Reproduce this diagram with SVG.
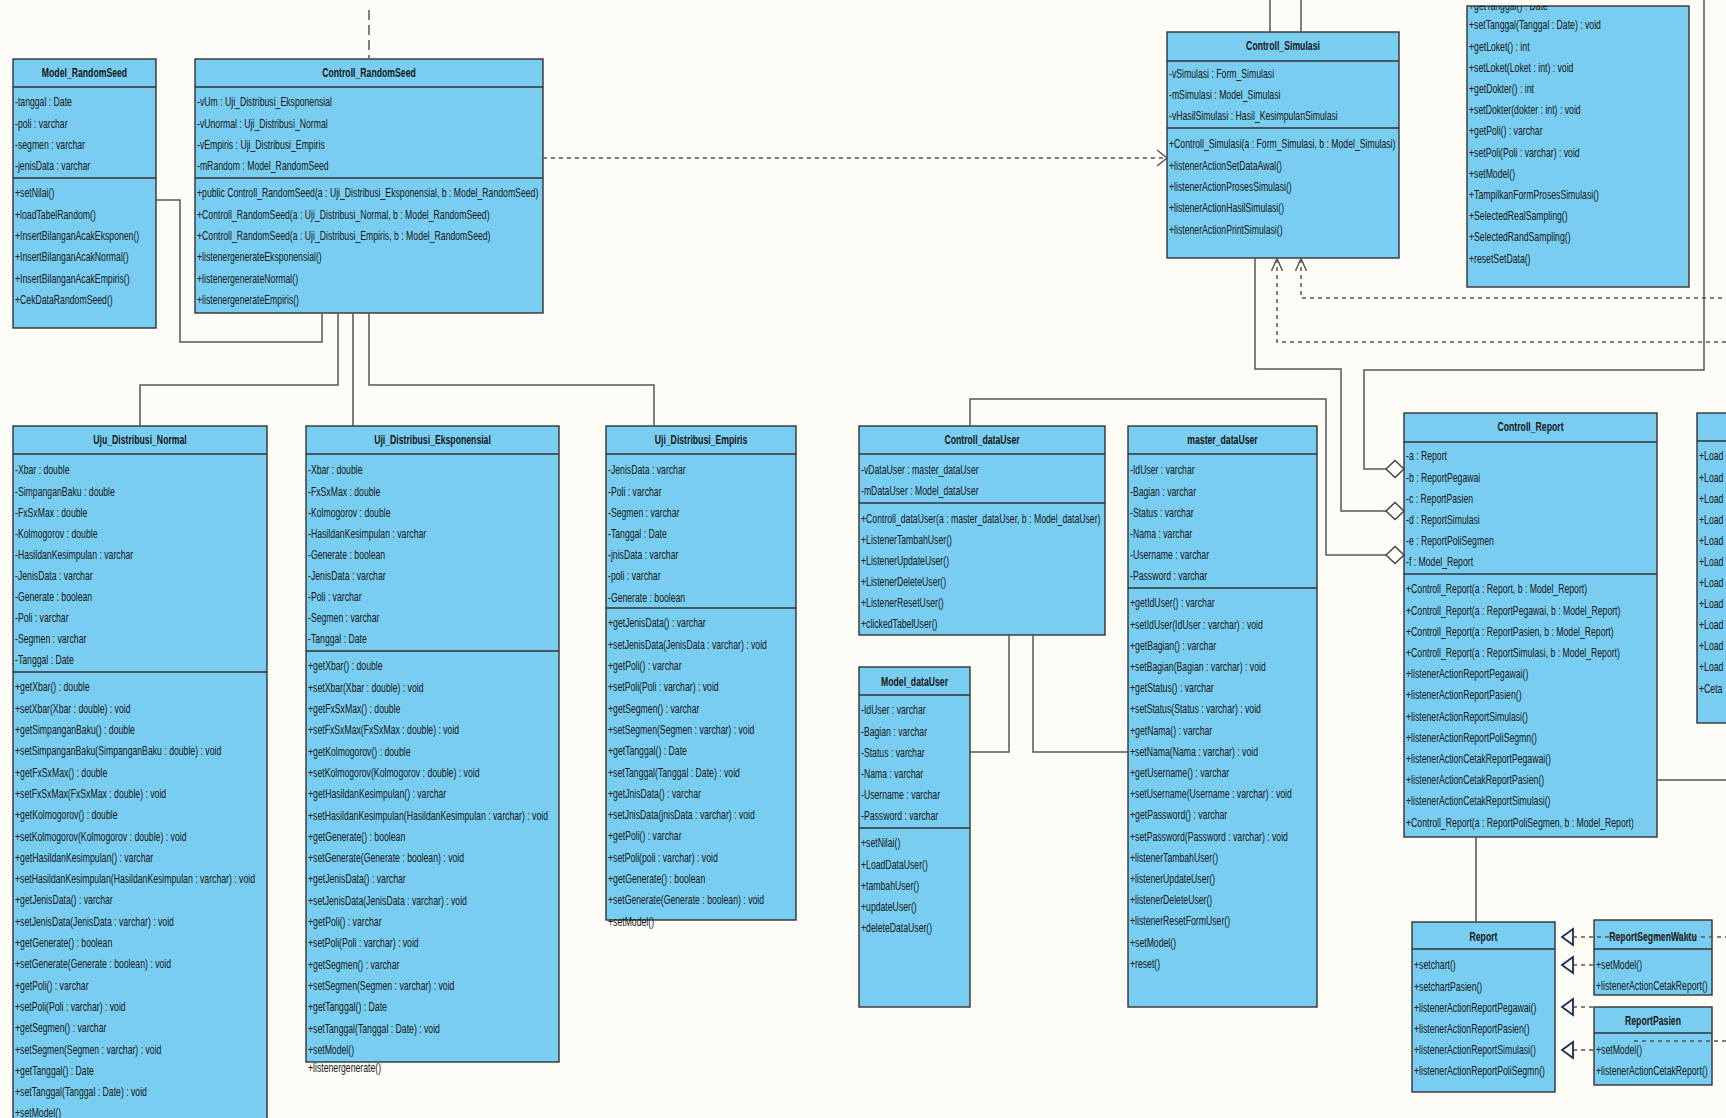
<svg xmlns="http://www.w3.org/2000/svg" width="1726" height="1118" viewBox="0 0 1726 1118">
<style>
.box{fill:#79cdf0;stroke:#333;stroke-width:1.4}
.sep{fill:none;stroke:#333;stroke-width:1.6}
.t{font-family:"Liberation Sans",Arial,sans-serif;font-size:13px;fill:#161616}
.h{font-family:"Liberation Sans",Arial,sans-serif;font-size:13px;font-weight:bold;fill:#161616;text-anchor:middle}
.ln{fill:none;stroke:#555;stroke-width:1.5}
.dash{fill:none;stroke:#555;stroke-width:1.5;stroke-dasharray:4 4}
.dashl{fill:none;stroke:#555;stroke-width:1.5;stroke-dasharray:10 5}
.dia{fill:#fdfdf8;stroke:#444;stroke-width:1.5}
.tri{fill:#f4f8fa;stroke:#1f2d4d;stroke-width:1.8}
</style>
<defs>
<clipPath id="clipTopRight"><rect x="1467" y="6" width="222" height="281"/></clipPath>
</defs>
<rect width="1726" height="1118" fill="#fdfcf7"/>

<!-- Model_RandomSeed -->
<g id="model-randomseed">
<rect class="box" x="13" y="59" width="143" height="269"/>
<path class="sep" d="M13 87H156M13 178H156"/>
<g transform="translate(84.5 0) scale(.668 1)"><text class="h" y="77.5">Model_RandomSeed</text></g>
<g transform="translate(15 0) scale(.668 1)">
<text class="t" y="106.5">-tanggal : Date</text>
<text class="t" y="127.8">-poli : varchar</text>
<text class="t" y="149.1">-segmen : varchar</text>
<text class="t" y="170.4">-jenisData : varchar</text>
<text class="t" y="197.5">+setNilai()</text>
<text class="t" y="218.8">+loadTabelRandom()</text>
<text class="t" y="240.1">+InsertBilanganAcakEksponen()</text>
<text class="t" y="261.4">+InsertBilanganAcakNormal()</text>
<text class="t" y="282.7">+InsertBilanganAcakEmpiris()</text>
<text class="t" y="304">+CekDataRandomSeed()</text>
</g>
</g>

<!-- Controll_RandomSeed -->
<g id="controll-randomseed">
<rect class="box" x="195" y="59" width="348" height="254"/>
<path class="sep" d="M195 87H543M195 178H543"/>
<g transform="translate(369 0) scale(.668 1)"><text class="h" y="77.5">Controll_RandomSeed</text></g>
<g transform="translate(197 0) scale(.668 1)">
<text class="t" y="106.5">-vUm : Uji_Distribusi_Eksponensial</text>
<text class="t" y="127.8">-vUnormal : Uji_Distribusi_Normal</text>
<text class="t" y="149.1">-vEmpiris : Uji_Distribusi_Empiris</text>
<text class="t" y="170.4">-mRandom : Model_RandomSeed</text>
<text class="t" y="197.5">+public Controll_RandomSeed(a : Uji_Distribusi_Eksponensial, b : Model_RandomSeed)</text>
<text class="t" y="218.8">+Controll_RandomSeed(a : Uji_Distribusi_Normal, b : Model_RandomSeed)</text>
<text class="t" y="240.1">+Controll_RandomSeed(a : Uji_Distribusi_Empiris, b : Model_RandomSeed)</text>
<text class="t" y="261.4">+listenergenerateEksponensial()</text>
<text class="t" y="282.7">+listenergenerateNormal()</text>
<text class="t" y="304">+listenergenerateEmpiris()</text>
</g>
</g>

<!-- Controll_Simulasi -->
<g id="controll-simulasi">
<rect class="box" x="1167" y="32" width="232" height="226"/>
<path class="sep" d="M1167 61H1399M1167 128H1399"/>
<g transform="translate(1283 0) scale(.668 1)"><text class="h" y="50.5">Controll_Simulasi</text></g>
<g transform="translate(1169 0) scale(.668 1)">
<text class="t" y="78.5">-vSimulasi : Form_Simulasi</text>
<text class="t" y="99.5">-mSimulasi : Model_Simulasi</text>
<text class="t" y="120.5">-vHasilSimulasi : Hasil_KesimpulanSimulasi</text>
<text class="t" y="148.5">+Controll_Simulasi(a : Form_Simulasi, b : Model_Simulasi)</text>
<text class="t" y="169.8">+listenerActionSetDataAwal()</text>
<text class="t" y="191.1">+listenerActionProsesSimulasi()</text>
<text class="t" y="212.4">+listenerActionHasilSimulasi()</text>
<text class="t" y="233.7">+listenerActionPrintSimulasi()</text>
</g>
</g>

<!-- simulation form class, upper part cut by the page edge -->
<g id="simulasi-form">
<rect class="box" x="1467" y="6" width="222" height="281"/>
<g clip-path="url(#clipTopRight)">
<g transform="translate(1469 0) scale(.668 1)">
<text class="t" y="9.5">+getTanggal() : Date</text>
<text class="t" y="29.5">+setTanggal(Tanggal : Date) : void</text>
<text class="t" y="50.7">+getLoket() : int</text>
<text class="t" y="71.9">+setLoket(Loket : int) : void</text>
<text class="t" y="93.1">+getDokter() : int</text>
<text class="t" y="114.3">+setDokter(dokter : int) : void</text>
<text class="t" y="135.5">+getPoli() : varchar</text>
<text class="t" y="156.7">+setPoli(Poli : varchar) : void</text>
<text class="t" y="177.9">+setModel()</text>
<text class="t" y="199.1">+TampilkanFormProsesSimulasi()</text>
<text class="t" y="220.3">+SelectedRealSampling()</text>
<text class="t" y="241.5">+SelectedRandSampling()</text>
<text class="t" y="262.7">+resetSetData()</text>
</g>
</g>
</g>

<!-- Uju_Distribusi_Normal -->
<g id="uji-distribusi-normal">
<rect class="box" x="13" y="426" width="254" height="710"/>
<path class="sep" d="M13 454H267M13 672H267"/>
<g transform="translate(140 0) scale(.668 1)"><text class="h" y="444.5">Uju_Distribusi_Normal</text></g>
<g transform="translate(15 0) scale(.668 1)">
<text class="t" y="474.5">-Xbar : double</text>
<text class="t" y="495.6">-SimpanganBaku : double</text>
<text class="t" y="516.7">-FxSxMax : double</text>
<text class="t" y="537.8">-Kolmogorov : double</text>
<text class="t" y="558.9">-HasildanKesimpulan : varchar</text>
<text class="t" y="580">-JenisData : varchar</text>
<text class="t" y="601.1">-Generate : boolean</text>
<text class="t" y="622.2">-Poli : varchar</text>
<text class="t" y="643.3">-Segmen : varchar</text>
<text class="t" y="664.4">-Tanggal : Date</text>
<text class="t" y="691.5">+getXbar() : double</text>
<text class="t" y="712.8">+setXbar(Xbar : double) : void</text>
<text class="t" y="734.1">+getSimpanganBaku() : double</text>
<text class="t" y="755.4">+setSimpanganBaku(SimpanganBaku : double) : void</text>
<text class="t" y="776.7">+getFxSxMax() : double</text>
<text class="t" y="798">+setFxSxMax(FxSxMax : double) : void</text>
<text class="t" y="819.3">+getKolmogorov() : double</text>
<text class="t" y="840.6">+setKolmogorov(Kolmogorov : double) : void</text>
<text class="t" y="861.9">+getHasildanKesimpulan() : varchar</text>
<text class="t" y="883.2">+setHasildanKesimpulan(HasildanKesimpulan : varchar) : void</text>
<text class="t" y="904.5">+getJenisData() : varchar</text>
<text class="t" y="925.8">+setJenisData(JenisData : varchar) : void</text>
<text class="t" y="947.1">+getGenerate() : boolean</text>
<text class="t" y="968.4">+setGenerate(Generate : boolean) : void</text>
<text class="t" y="989.7">+getPoli() : varchar</text>
<text class="t" y="1011">+setPoli(Poli : varchar) : void</text>
<text class="t" y="1032.3">+getSegmen() : varchar</text>
<text class="t" y="1053.6">+setSegmen(Segmen : varchar) : void</text>
<text class="t" y="1074.9">+getTanggal() : Date</text>
<text class="t" y="1096.2">+setTanggal(Tanggal : Date) : void</text>
<text class="t" y="1117.5">+setModel()</text>
</g>
</g>

<!-- Uji_Distribusi_Eksponensial -->
<g id="uji-distribusi-eksponensial">
<rect class="box" x="306" y="426" width="253" height="636"/>
<path class="sep" d="M306 454H559M306 651H559"/>
<g transform="translate(432.5 0) scale(.668 1)"><text class="h" y="444.5">Uji_Distribusi_Eksponensial</text></g>
<g transform="translate(308 0) scale(.668 1)">
<text class="t" y="474.5">-Xbar : double</text>
<text class="t" y="495.6">-FxSxMax : double</text>
<text class="t" y="516.7">-Kolmogorov : double</text>
<text class="t" y="537.8">-HasildanKesimpulan : varchar</text>
<text class="t" y="558.9">-Generate : boolean</text>
<text class="t" y="580">-JenisData : varchar</text>
<text class="t" y="601.1">-Poli : varchar</text>
<text class="t" y="622.2">-Segmen : varchar</text>
<text class="t" y="643.3">-Tanggal : Date</text>
<text class="t" y="670.5">+getXbar() : double</text>
<text class="t" y="691.8">+setXbar(Xbar : double) : void</text>
<text class="t" y="713.1">+getFxSxMax() : double</text>
<text class="t" y="734.4">+setFxSxMax(FxSxMax : double) : void</text>
<text class="t" y="755.7">+getKolmogorov() : double</text>
<text class="t" y="777">+setKolmogorov(Kolmogorov : double) : void</text>
<text class="t" y="798.3">+getHasildanKesimpulan() : varchar</text>
<text class="t" y="819.6">+setHasildanKesimpulan(HasildanKesimpulan : varchar) : void</text>
<text class="t" y="840.9">+getGenerate() : boolean</text>
<text class="t" y="862.2">+setGenerate(Generate : boolean) : void</text>
<text class="t" y="883.5">+getJenisData() : varchar</text>
<text class="t" y="904.8">+setJenisData(JenisData : varchar) : void</text>
<text class="t" y="926.1">+getPoli() : varchar</text>
<text class="t" y="947.4">+setPoli(Poli : varchar) : void</text>
<text class="t" y="968.7">+getSegmen() : varchar</text>
<text class="t" y="990">+setSegmen(Segmen : varchar) : void</text>
<text class="t" y="1011.3">+getTanggal() : Date</text>
<text class="t" y="1032.6">+setTanggal(Tanggal : Date) : void</text>
<text class="t" y="1053.9">+setModel()</text>
<text class="t" y="1072.5">+listenergenerate()</text>
</g>
</g>

<!-- Uji_Distribusi_Empiris -->
<g id="uji-distribusi-empiris">
<rect class="box" x="606" y="426" width="190" height="494"/>
<path class="sep" d="M606 454H796M606 608H796"/>
<g transform="translate(701 0) scale(.668 1)"><text class="h" y="444.5">Uji_Distribusi_Empiris</text></g>
<g transform="translate(608 0) scale(.668 1)">
<text class="t" y="474.5">-JenisData : varchar</text>
<text class="t" y="495.7">-Poli : varchar</text>
<text class="t" y="516.9">-Segmen : varchar</text>
<text class="t" y="538.1">-Tanggal : Date</text>
<text class="t" y="559.3">-jnisData : varchar</text>
<text class="t" y="580.5">-poli : varchar</text>
<text class="t" y="601.7">-Generate : boolean</text>
<text class="t" y="627.5">+getJenisData() : varchar</text>
<text class="t" y="648.8">+setJenisData(JenisData : varchar) : void</text>
<text class="t" y="670.1">+getPoli() : varchar</text>
<text class="t" y="691.4">+setPoli(Poli : varchar) : void</text>
<text class="t" y="712.7">+getSegmen() : varchar</text>
<text class="t" y="734">+setSegmen(Segmen : varchar) : void</text>
<text class="t" y="755.3">+getTanggal() : Date</text>
<text class="t" y="776.6">+setTanggal(Tanggal : Date) : void</text>
<text class="t" y="797.9">+getJnisData() : varchar</text>
<text class="t" y="819.2">+setJnisData(jnisData : varchar) : void</text>
<text class="t" y="840.5">+getPoli() : varchar</text>
<text class="t" y="861.8">+setPoli(poli : varchar) : void</text>
<text class="t" y="883.1">+getGenerate() : boolean</text>
<text class="t" y="904.4">+setGenerate(Generate : boolean) : void</text>
<text class="t" y="925.7">+setModel()</text>
</g>
</g>

<!-- Controll_dataUser -->
<g id="controll-datauser">
<rect class="box" x="859" y="426" width="246" height="209"/>
<path class="sep" d="M859 454H1105M859 503H1105"/>
<g transform="translate(982 0) scale(.668 1)"><text class="h" y="444.5">Controll_dataUser</text></g>
<g transform="translate(861 0) scale(.668 1)">
<text class="t" y="474.5">-vDataUser : master_dataUser</text>
<text class="t" y="495.5">-mDataUser : Model_dataUser</text>
<text class="t" y="523.5">+Controll_dataUser(a : master_dataUser, b : Model_dataUser)</text>
<text class="t" y="544.5">+ListenerTambahUser()</text>
<text class="t" y="565.5">+ListenerUpdateUser()</text>
<text class="t" y="586.5">+ListenerDeleteUser()</text>
<text class="t" y="607.5">+ListenerResetUser()</text>
<text class="t" y="628.5">+clickedTabelUser()</text>
</g>
</g>

<!-- Model_dataUser -->
<g id="model-datauser">
<rect class="box" x="859" y="667" width="111" height="340"/>
<path class="sep" d="M859 695H970M859 828H970"/>
<g transform="translate(914.5 0) scale(.668 1)"><text class="h" y="686.5">Model_dataUser</text></g>
<g transform="translate(861 0) scale(.668 1)">
<text class="t" y="714.5">-IdUser : varchar</text>
<text class="t" y="735.7">-Bagian : varchar</text>
<text class="t" y="756.9">-Status : varchar</text>
<text class="t" y="778.1">-Nama : varchar</text>
<text class="t" y="799.3">-Username : varchar</text>
<text class="t" y="820.5">-Password : varchar</text>
<text class="t" y="847.5">+setNilai()</text>
<text class="t" y="868.7">+LoadDataUser()</text>
<text class="t" y="889.9">+tambahUser()</text>
<text class="t" y="911.1">+updateUser()</text>
<text class="t" y="932.3">+deleteDataUser()</text>
</g>
</g>

<!-- master_dataUser -->
<g id="master-datauser">
<rect class="box" x="1128" y="426" width="189" height="581"/>
<path class="sep" d="M1128 454H1317M1128 588H1317"/>
<g transform="translate(1222.5 0) scale(.668 1)"><text class="h" y="444.5">master_dataUser</text></g>
<g transform="translate(1130 0) scale(.668 1)">
<text class="t" y="474.5">-IdUser : varchar</text>
<text class="t" y="495.7">-Bagian : varchar</text>
<text class="t" y="516.9">-Status : varchar</text>
<text class="t" y="538.1">-Nama : varchar</text>
<text class="t" y="559.3">-Username : varchar</text>
<text class="t" y="580.5">-Password : varchar</text>
<text class="t" y="607.5">+getIdUser() : varchar</text>
<text class="t" y="628.7">+setIdUser(IdUser : varchar) : void</text>
<text class="t" y="649.9">+getBagian() : varchar</text>
<text class="t" y="671.1">+setBagian(Bagian : varchar) : void</text>
<text class="t" y="692.3">+getStatus() : varchar</text>
<text class="t" y="713.5">+setStatus(Status : varchar) : void</text>
<text class="t" y="734.7">+getNama() : varchar</text>
<text class="t" y="755.9">+setNama(Nama : varchar) : void</text>
<text class="t" y="777.1">+getUsername() : varchar</text>
<text class="t" y="798.3">+setUsername(Username : varchar) : void</text>
<text class="t" y="819.5">+getPassword() : varchar</text>
<text class="t" y="840.7">+setPassword(Password : varchar) : void</text>
<text class="t" y="861.9">+listenerTambahUser()</text>
<text class="t" y="883.1">+listenerUpdateUser()</text>
<text class="t" y="904.3">+listenerDeleteUser()</text>
<text class="t" y="925.5">+listenerResetFormUser()</text>
<text class="t" y="946.7">+setModel()</text>
<text class="t" y="967.9">+reset()</text>
</g>
</g>

<!-- Controll_Report -->
<g id="controll-report">
<rect class="box" x="1404" y="413" width="253" height="424"/>
<path class="sep" d="M1404 442H1657M1404 574H1657"/>
<g transform="translate(1530.5 0) scale(.668 1)"><text class="h" y="431.5">Controll_Report</text></g>
<g transform="translate(1406 0) scale(.668 1)">
<text class="t" y="460.5">-a : Report</text>
<text class="t" y="481.7">-b : ReportPegawai</text>
<text class="t" y="502.9">-c : ReportPasien</text>
<text class="t" y="524.1">-d : ReportSimulasi</text>
<text class="t" y="545.3">-e : ReportPoliSegmen</text>
<text class="t" y="566.5">-f : Model_Report</text>
<text class="t" y="593.5">+Controll_Report(a : Report, b : Model_Report)</text>
<text class="t" y="614.7">+Controll_Report(a : ReportPegawai, b : Model_Report)</text>
<text class="t" y="635.9">+Controll_Report(a : ReportPasien, b : Model_Report)</text>
<text class="t" y="657.1">+Controll_Report(a : ReportSimulasi, b : Model_Report)</text>
<text class="t" y="678.3">+listenerActionReportPegawai()</text>
<text class="t" y="699.5">+listenerActionReportPasien()</text>
<text class="t" y="720.7">+listenerActionReportSimulasi()</text>
<text class="t" y="741.9">+listenerActionReportPoliSegmn()</text>
<text class="t" y="763.1">+listenerActionCetakReportPegawai()</text>
<text class="t" y="784.3">+listenerActionCetakReportPasien()</text>
<text class="t" y="805.5">+listenerActionCetakReportSimulasi()</text>
<text class="t" y="826.7">+Controll_Report(a : ReportPoliSegmen, b : Model_Report)</text>
</g>
</g>

<!-- model class running off the right edge -->
<g id="report-model-edge">
<rect class="box" x="1697" y="413" width="50" height="310"/>
<path class="sep" d="M1697 441H1747"/>
<g transform="translate(1699 0) scale(.668 1)">
<text class="t" y="460.5">+Load</text>
<text class="t" y="481.6">+Load</text>
<text class="t" y="502.7">+Load</text>
<text class="t" y="523.8">+Load</text>
<text class="t" y="544.9">+Load</text>
<text class="t" y="566">+Load</text>
<text class="t" y="587.1">+Load</text>
<text class="t" y="608.2">+Load</text>
<text class="t" y="629.3">+Load</text>
<text class="t" y="650.4">+Load</text>
<text class="t" y="671.5">+Load</text>
<text class="t" y="692.6">+Ceta</text>
</g>
</g>

<!-- Report -->
<g id="report">
<rect class="box" x="1412" y="922" width="143" height="170"/>
<path class="sep" d="M1412 949H1555"/>
<g transform="translate(1483.5 0) scale(.668 1)"><text class="h" y="941.5">Report</text></g>
<g transform="translate(1414 0) scale(.668 1)">
<text class="t" y="969.5">+setchart()</text>
<text class="t" y="990.7">+setchartPasien()</text>
<text class="t" y="1011.9">+listenerActionReportPegawai()</text>
<text class="t" y="1033.1">+listenerActionReportPasien()</text>
<text class="t" y="1054.3">+listenerActionReportSimulasi()</text>
<text class="t" y="1075.5">+listenerActionReportPoliSegmn()</text>
</g>
</g>

<!-- ReportSegmenWaktu -->
<g id="report-segmen-waktu">
<rect class="box" x="1594" y="920" width="118" height="75"/>
<path class="sep" d="M1594 949H1712"/>
<g transform="translate(1653 0) scale(.668 1)"><text class="h" y="941.5">ReportSegmenWaktu</text></g>
<g transform="translate(1596 0) scale(.668 1)">
<text class="t" y="969.5">+setModel()</text>
<text class="t" y="990.5">+listenerActionCetakReport()</text>
</g>
</g>

<!-- ReportPasien -->
<g id="report-pasien">
<rect class="box" x="1594" y="1007" width="118" height="78"/>
<path class="sep" d="M1594 1033H1712"/>
<g transform="translate(1653 0) scale(.668 1)"><text class="h" y="1025.5">ReportPasien</text></g>
<g transform="translate(1596 0) scale(.668 1)">
<text class="t" y="1054.5">+setModel()</text>
<text class="t" y="1075.5">+listenerActionCetakReport()</text>
</g>
</g>

<!-- associations, dependencies and realizations -->
<g id="connectors">
<path class="dashl" d="M369 10V59"/>
<path class="dash" d="M543 158H1166"/>
<path class="ln" d="M1157 150L1167 158L1157 166"/>
<path class="ln" d="M156 200H180V342H322V313"/>
<path class="ln" d="M338 313V385H140V426"/>
<path class="ln" d="M353 313V426"/>
<path class="ln" d="M369 313V385H654V426"/>
<path class="ln" d="M1270 0V32M1301 0V32"/>
<path class="ln" d="M1255 258V369H1341V511H1386"/>
<path class="ln" d="M1704 0V370H1364V469H1386"/>
<path class="ln" d="M970 426V399H1326V555H1386"/>
<path class="dia" d="M1386 469L1395 460.5L1404 469L1395 477.5Z"/>
<path class="dia" d="M1386 511L1395 502.5L1404 511L1395 519.5Z"/>
<path class="dia" d="M1386 555L1395 546.5L1404 555L1395 563.5Z"/>
<path class="dash" d="M1277 259V342H1726"/>
<path class="dash" d="M1301 259V298H1726"/>
<path class="ln" d="M1271.5 271L1277 258.5L1282.5 271M1295.5 271L1301 258.5L1306.5 271"/>
<path class="ln" d="M1009 635V752H970M1033 635V752H1128"/>
<path class="ln" d="M1657 780H1726"/>
<path class="ln" d="M1476 837V922"/>
<path class="dash" d="M1573 937H1726M1573 965H1594M1573 1007H1594M1573 1050H1594M1726 1041H1634"/>
<path class="tri" d="M1562 937L1573 929L1573 945Z"/>
<path class="tri" d="M1562 965L1573 957L1573 973Z"/>
<path class="tri" d="M1562 1007L1573 999L1573 1015Z"/>
<path class="tri" d="M1562 1050L1573 1042L1573 1058Z"/>
</g>
</svg>
